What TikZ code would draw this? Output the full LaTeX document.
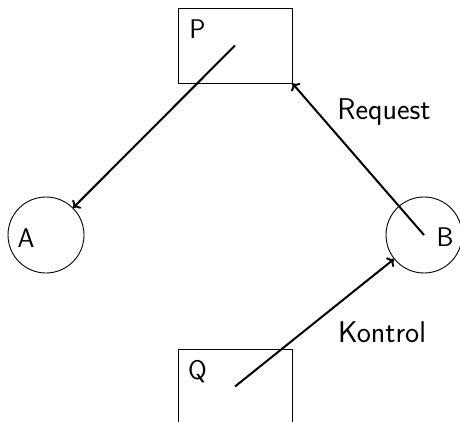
\documentclass[tikz,border=0pt]{standalone}
\usetikzlibrary{arrows.meta}
\begin{document}
\begin{tikzpicture}[x=1pt,y=-1pt,
  box/.style={draw,line width=0.9pt,minimum width=114pt,minimum height=75pt,inner sep=0pt},
  ring/.style={draw,circle,line width=0.9pt,minimum size=76pt,inner sep=0pt},
  txt/.style={font=\sffamily\fontsize{27}{31}\selectfont,inner sep=0pt},
  lbl/.style={font=\sffamily\fontsize{30}{34}\selectfont,inner sep=0pt},
  link/.style={line width=2pt,-{To[length=6pt,width=12pt]}}]
\useasboundingbox (0,0) rectangle (460,422);
% shapes
\node[box] (P) at (235,45.5) {};
\node[box] (Q) at (235,386.5) {};
\node[ring] (A) at (46,235) {};
\node[ring] (B) at (424,235) {};
% their letters
\node[txt] (Pt) at (197.5,29) {P};
\node[txt] (Qt) at (197.5,372) {Q};
\node[txt] (At) at (26,238) {A};
\node[txt] (Bt) at (445,237) {B};
% connectors
\draw[link] (P.center) -- (A);
\draw[link] (B.center) -- (P.south east);
\draw[link] (Q.center) -- (B);
% connector labels
\node[lbl] (req) at (384,112) {Request};
\node[lbl] (kon) at (382,332) {Kontrol};
\end{tikzpicture}
\end{document}
